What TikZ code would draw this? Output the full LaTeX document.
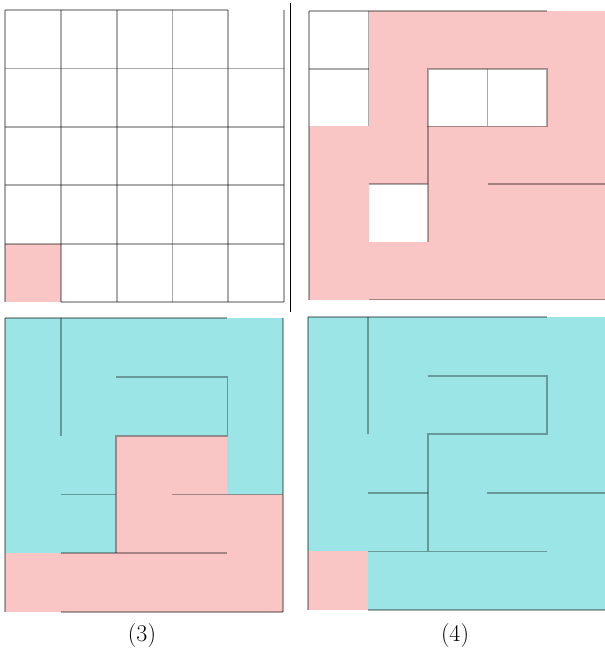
\documentclass[tikz,border=0pt]{standalone}
\usepackage{xcolor}
\usepackage{tikz}
\definecolor{mazepink}{HTML}{F9C6C5}
\definecolor{mazecyan}{HTML}{9BE5E7}

\newcommand{\mazewalls}{%
  \draw[wall] (0,0) -- (4,0);
  \draw[wall] (0,0) -- (0,5);
  \draw[wall] (1,5) -- (5,5);
  \draw[wall] (5,0) -- (5,5);
  \draw[wall] (1,0) -- (1,2);
  \draw[wall] (2,1) -- (4,1) -- (4,2) -- (2,2) -- (2,4);
  \draw[wall] (1,3) -- (2,3);
  \draw[wall] (3,3) -- (5,3);
  \draw[wall] (1,4) -- (4,4);
}

\begin{document}
\begin{tikzpicture}[
  x=1pt, y=-1pt,
  wall/.style={draw=black, draw opacity=0.33, line width=1.8pt},
  sep/.style={draw=black, line width=1.5pt},
  caption/.style={font=\fontsize{24}{28}\selectfont, inner sep=0pt}
]
\useasboundingbox (0,0) rectangle (605,656);
\clip (0,0) rectangle (605,656);

% Panel 1: empty grid
\begin{scope}[shift={(5,10)}, x=55.8pt, y=-58.4pt]
  \fill[mazepink] (0,4) rectangle (1,5);
  \foreach \i in {1,...,4} {
    \draw[wall] (0,\i) -- (5,\i);
    \draw[wall] (\i,0) -- (\i,5);
  }
  \draw[wall] (0,0) -- (4,0);
  \draw[wall] (1,5) -- (5,5);
  \draw[wall] (0,0) -- (0,5);
  \draw[wall] (5,0) -- (5,5);
\end{scope}

% Separator
\draw[sep] (290.5,3) -- (290.5,312);

% Panel 2: pink region growing
\begin{scope}[shift={(309,11)}, x=59.5pt, y=-57.7pt]
  \fill[mazepink] (0,0) rectangle (5,5);
  \fill[white] (0,0) rectangle (1,2);
  \fill[white] (2,1) rectangle (4,2);
  \fill[white] (1,3) rectangle (2,4);
  \draw[wall] (0,0) -- (4,0);
  \draw[wall] (0,0) -- (0,5);
  \draw[wall] (1,5) -- (5,5);
  \draw[wall] (0,1) -- (1,1);
  \draw[wall] (1,0) -- (1,2);
  \draw[wall] (2,1) rectangle (4,2);
  \draw[wall] (3,1) -- (3,2);
  \draw[wall] (2,2) -- (2,4);
  \draw[wall] (1,3) -- (2,3);
  \draw[wall] (3,3) -- (5,3);
\end{scope}

% Panel 3
\begin{scope}[shift={(5,318)}, x=55.6pt, y=-58.8pt]
  \fill[mazecyan] (0,0) rectangle (5,5);
  \fill[mazepink] (0,5) -- (5,5) -- (5,3) -- (4,3) -- (4,2) -- (2,2) -- (2,4) -- (0,4) -- cycle;
  \mazewalls
\end{scope}

% Panel 4
\begin{scope}[shift={(308,317)}, x=59.8pt, y=-58.6pt]
  \fill[mazecyan] (0,0) rectangle (5,5);
  \fill[mazepink] (0,4) rectangle (1,5);
  \mazewalls
\end{scope}

% Captions
\node[caption] (cap3) at (142,636) {(3)};
\node[caption] (cap4) at (455,636) {(4)};

\end{tikzpicture}
\end{document}
